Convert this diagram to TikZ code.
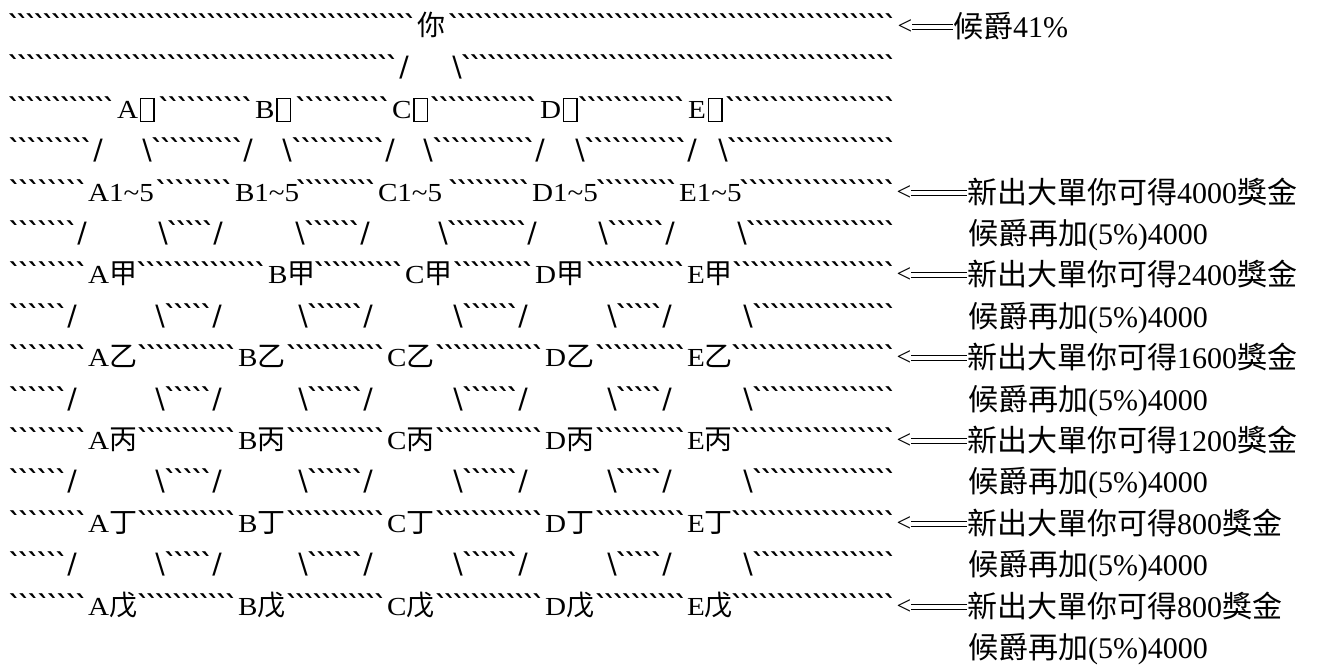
\documentclass[tikz,border=0pt]{standalone}
\usepackage{fontspec}
\usepackage{graphicx}
\setmainfont{Liberation Serif}
\newfontfamily\cjkfont{Noto Sans CJK TC}
\newfontfamily\dvfont{DejaVu Sans Bold}
\newfontfamily\slfont{DejaVu Sans}
\newcommand\tickfill[1]{\hbox to #1pt{\dvfont\fontsize{26}{26}\selectfont\xleaders\hbox to 8.6pt{\hss ˋ\hss}\hfill}}
\newcommand\Lt[1]{{\fontsize{26}{30}\selectfont\scalebox{1.12}[1]{#1}}}
\newcommand\Cj[1]{{\cjkfont\fontsize{28}{30}\selectfont #1}}
\newcommand\Cr[1]{{\cjkfont #1}}
\newcommand\tofu{{\setlength\fboxsep{0pt}\setlength\fboxrule{1.4pt}\hspace{2pt}\fbox{\rule[-3pt]{0pt}{22pt}\hspace{12pt}}}}
\tikzset{
  bw/.style={inner sep=0pt, outer sep=0pt, anchor=base west},
  tickrun/.style={bw},
  lab/.style={bw},
  slashmark/.style={inner sep=0pt, outer sep=0pt, anchor=base, font=\slfont\fontsize{28}{28}\selectfont},
  note/.style={bw, font=\fontsize{30}{32}\selectfont},
  ltmark/.style={inner sep=0pt, outer sep=0pt, font=\fontsize{26}{26}\selectfont},
  dbl/.style={draw=black, line width=1.1pt},
}
% name, x1, x2, row centre
\newcommand\TR[4]{\node[tickrun] (#1) at (#2,#4+7) {\tickfill{\the\numexpr#3-#2\relax}};}
% name, x, content, row centre
\newcommand\LB[4]{\node[lab] (#1) at (#2,#4+8) {#3};}
\newcommand\NT[4]{\node[note] (#1) at (#2,#4+10) {#3};}
% name, x centre, row centre
\newcommand\FS[3]{\node[slashmark] (#1) at (#2,#3+8) {/};}
\newcommand\BS[3]{\node[slashmark] (#1) at (#2,#3+8) {\textbackslash};}
% name, x centre, row centre, target node
\newcommand\AR[4]{\node[ltmark] (#1) at (#2,#3) {<};
  \draw[dbl] ([yshift=2.3pt]#1.east) -- ([yshift=2.3pt]#1.east -| #4.west);
  \draw[dbl] ([yshift=-2.3pt]#1.east) -- ([yshift=-2.3pt]#1.east -| #4.west);}
\begin{document}
\begin{tikzpicture}[x=1pt,y=-1pt]
\useasboundingbox (0,0) rectangle (1322,664);
\fill[white] (0,0) rectangle (1322,664);
% row 1
\TR{t1a}{10}{415}{27}
\LB{ni}{417}{\Cj{你}}{27}
\TR{t1b}{450}{895}{27}
\NT{n1}{953}{\Cr{候爵}41\%}{27}
\AR{a1}{905}{27}{n1}
% row 2
\TR{t2a}{10}{397}{68}
\FS{s2a}{404}{68}
\BS{s2b}{457}{68}
\TR{t2b}{463}{895}{68}
% row 3
\TR{t3a}{10}{114}{110}
\LB{l3a}{117}{\Lt{A}\tofu}{110}
\TR{t3b}{160}{253}{110}
\LB{l3b}{255}{\Lt{B}\tofu}{110}
\TR{t3c}{297}{390}{110}
\LB{l3c}{392}{\Lt{C}\tofu}{110}
\TR{t3d}{432}{537}{110}
\LB{l3d}{540}{\Lt{D}\tofu}{110}
\TR{t3e}{580}{685}{110}
\LB{l3e}{688}{\Lt{E}\tofu}{110}
\TR{t3f}{727}{895}{110}
% row 4
\TR{t4a}{10}{92}{151}
\FS{s4a}{98}{151} \BS{s4b}{147}{151}
\TR{t4b}{153}{243}{151}
\FS{s4c}{248}{151} \BS{s4d}{287}{151}
\TR{t4c}{293}{385}{151}
\FS{s4e}{390}{151} \BS{s4f}{428}{151}
\TR{t4d}{434}{535}{151}
\FS{s4g}{540}{151} \BS{s4h}{580}{151}
\TR{t4e}{586}{687}{151}
\FS{s4i}{692}{151} \BS{s4j}{723}{151}
\TR{t4f}{729}{895}{151}
% row 5
\TR{t5a}{10}{87}{193}
\LB{l5a}{88}{\Lt{A1\textasciitilde5}}{193}
\TR{t5b}{157}{233}{193}
\LB{l5b}{235}{\Lt{B1\textasciitilde5}}{193}
\TR{t5c}{298}{376}{193}
\LB{l5c}{378}{\Lt{C1\textasciitilde5}}{193}
\TR{t5d}{450}{530}{193}
\LB{l5d}{532}{\Lt{D1\textasciitilde5}}{193}
\TR{t5e}{598}{677}{193}
\LB{l5e}{679}{\Lt{E1\textasciitilde5}}{193}
\TR{t5f}{741}{895}{193}
\NT{n5}{967}{\Cr{新出大單你可得}4000\Cr{獎金}}{193}
\AR{a5}{904}{193}{n5}
% row 6
\TR{t6a}{10}{77}{234}
\FS{s6a}{82}{234} \BS{s6b}{163}{234}
\TR{t6b}{169}{213}{234}
\FS{s6c}{218}{234} \BS{s6d}{300}{234}
\TR{t6c}{306}{360}{234}
\FS{s6e}{365}{234} \BS{s6f}{443}{234}
\TR{t6d}{449}{527}{234}
\FS{s6g}{532}{234} \BS{s6h}{603}{234}
\TR{t6e}{609}{665}{234}
\FS{s6i}{670}{234} \BS{s6j}{742}{234}
\TR{t6f}{748}{895}{234}
\NT{n6}{968}{\Cr{候爵再加}(5\%)4000}{234}
% row 7
\TR{t7a}{10}{87}{275}
\LB{l7a}{88}{\Lt{A}\Cj{甲}}{275}
\TR{t7b}{138}{266}{275}
\LB{l7b}{268}{\Lt{B}\Cj{甲}}{275}
\TR{t7c}{316}{403}{275}
\LB{l7c}{405}{\Lt{C}\Cj{甲}}{275}
\TR{t7d}{455}{533}{275}
\LB{l7d}{535}{\Lt{D}\Cj{甲}}{275}
\TR{t7e}{588}{685}{275}
\LB{l7e}{687}{\Lt{E}\Cj{甲}}{275}
\TR{t7f}{734}{895}{275}
\NT{n7}{967}{\Cr{新出大單你可得}2400\Cr{獎金}}{275}
\AR{a7}{904}{275}{n7}
% rows 8,10,12,14
\foreach \rc/\k in {317/8, 400/10, 482/12, 565/14}{
  \TR{t\k a}{10}{67}{\rc}
  \FS{s\k a}{72}{\rc} \BS{s\k b}{160}{\rc}
  \TR{t\k b}{166}{212}{\rc}
  \FS{s\k c}{217}{\rc} \BS{s\k d}{303}{\rc}
  \TR{t\k c}{309}{363}{\rc}
  \FS{s\k e}{368}{\rc} \BS{s\k f}{458}{\rc}
  \TR{t\k d}{464}{518}{\rc}
  \FS{s\k g}{523}{\rc} \BS{s\k h}{612}{\rc}
  \TR{t\k e}{618}{662}{\rc}
  \FS{s\k i}{667}{\rc} \BS{s\k j}{748}{\rc}
  \TR{t\k f}{754}{895}{\rc}
  \NT{n\k}{968}{\Cr{候爵再加}(5\%)4000}{\rc}
}
% rows 9,11,13,15
\foreach \rc/\ch/\amt/\k in {358/乙/1600/9, 441/丙/1200/11, 524/丁/800/13, 607/戊/800/15}{
  \TR{t\k a}{10}{87}{\rc}
  \LB{l\k a}{88}{\Lt{A}\Cj{\ch}}{\rc}
  \TR{t\k b}{139}{236}{\rc}
  \LB{l\k b}{238}{\Lt{B}\Cj{\ch}}{\rc}
  \TR{t\k c}{288}{385}{\rc}
  \LB{l\k c}{387}{\Lt{C}\Cj{\ch}}{\rc}
  \TR{t\k d}{437}{543}{\rc}
  \LB{l\k d}{545}{\Lt{D}\Cj{\ch}}{\rc}
  \TR{t\k e}{597}{686}{\rc}
  \LB{l\k e}{687}{\Lt{E}\Cj{\ch}}{\rc}
  \TR{t\k f}{733}{895}{\rc}
  \NT{n\k}{967}{\Cr{新出大單你可得}\amt\Cr{獎金}}{\rc}
  \AR{a\k}{904}{\rc}{n\k}
}
% row 16
\NT{n16}{968}{\Cr{候爵再加}(5\%)4000}{648}
\end{tikzpicture}
\end{document}
